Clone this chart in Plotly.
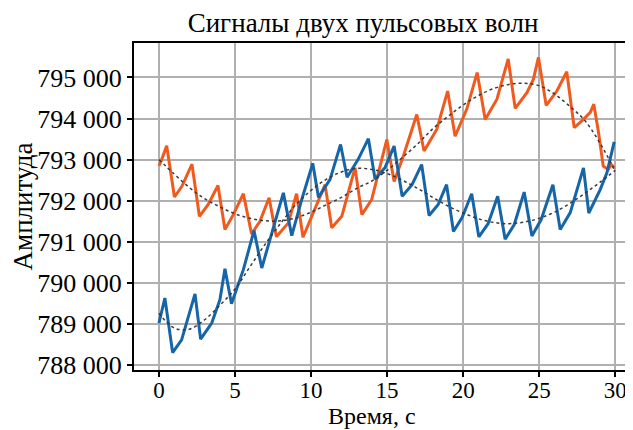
import plotly.graph_objects as go

# ---- data ----
blue_t = [0.0, 0.39, 0.90, 1.49, 2.37, 2.74, 3.47, 4.01, 4.34, 4.77, 5.55, 6.25, 6.76, 7.30, 8.18, 8.73,
          9.39, 10.11, 10.49, 11.25, 11.94, 12.37, 13.09, 13.77, 14.21, 14.87, 15.46, 15.99, 16.64, 17.27,
          17.76, 18.36, 18.91, 19.36, 19.93, 20.56, 21.03, 21.64, 22.27, 22.76, 23.36, 24.01, 24.52, 25.13,
          25.90, 26.38, 27.04, 27.91, 28.26, 29.01, 29.45, 29.93]
blue_v = [789020, 789630, 788300, 788610, 789730, 788630, 789020, 789590, 790340, 789490, 790320, 791270,
          790360, 791050, 792190, 791150, 792030, 792910, 792080, 792520, 793370, 792570, 793000, 793510,
          792520, 792810, 793330, 792110, 792390, 792880, 791640, 791910, 792390, 791250, 791590, 792170,
          791120, 791440, 792110, 791060, 791420, 792210, 791140, 791540, 792390, 791300, 791710, 792800,
          791700, 792270, 792680, 793430]

orange_t = [0.0, 0.18, 0.51, 1.02, 1.51, 2.17, 2.66, 3.24, 3.88, 4.34, 4.89, 5.55, 6.09, 6.64, 7.24, 7.72,
            8.51, 9.05, 9.47, 10.05, 10.92, 11.36, 12.02, 12.89, 13.34, 13.99, 14.98, 15.46, 16.07, 16.95,
            17.43, 18.27, 18.98, 19.47, 20.24, 20.92, 21.45, 22.22, 22.96, 23.42, 24.19, 24.62, 24.95, 25.46,
            26.16, 26.81, 27.30, 27.91, 28.36, 28.59, 28.90, 29.21, 29.54, 29.74, 29.93]
orange_v = [792850, 793000, 793340, 792090, 792350, 792890, 791620, 791910, 792370, 791300, 791660, 792170,
            791190, 791500, 792070, 791120, 791460, 792170, 791110, 791620, 792390, 791340, 791620, 792800,
            791660, 792030, 793490, 792470, 793090, 794100, 793210, 793740, 794670, 793570, 794230, 795120,
            793980, 794470, 795450, 794250, 794630, 794960, 795490, 794320, 794670, 795140, 793780, 793980,
            794150, 794350, 793660, 792840, 792760, 792880, 792800]

trend_t = list(range(0, 31))
blue_trend = [789260, 788900, 788870, 789100, 789450, 789850, 790400, 790950, 791450, 791900, 792250,
              792520, 792700, 792790, 792760, 792660, 792500, 792300, 792080, 791870, 791700, 791560,
              791470, 791440, 791480, 791570, 791720, 791930, 792180, 792450, 792740]
orange_trend = [793000, 792650, 792320, 792050, 791850, 791680, 791570, 791510, 791510, 791580, 791720,
                791900, 792080, 792300, 792480, 792740, 793050, 793380, 793750, 794050, 794330, 794560,
                794730, 794830, 794860, 794800, 794600, 794300, 793950, 793400, 792720]

x_ticks = [0, 5, 10, 15, 20, 25, 30]
y_ticks = [788000, 789000, 790000, 791000, 792000, 793000, 794000, 795000]

title_text = "Сигналы двух пульсовых волн"
x_title = "Время, с"
y_title = "Амплитуда"

FONT = "Liberation Serif, Times New Roman, serif"

# the page body has an 8px default margin, so the figure is 8px smaller on each side
fig = go.Figure()
fig.add_trace(go.Scatter(x=orange_t, y=orange_v, mode="lines",
                         line=dict(color="#f05a1e", width=3), showlegend=False))
fig.add_trace(go.Scatter(x=blue_t, y=blue_v, mode="lines",
                         line=dict(color="#1565a8", width=3), showlegend=False))
fig.add_trace(go.Scatter(x=trend_t, y=blue_trend, mode="lines", line_shape="spline",
                         line=dict(color="#3a3a3a", width=1.5, dash="dot"), showlegend=False))
fig.add_trace(go.Scatter(x=trend_t, y=orange_trend, mode="lines", line_shape="spline",
                         line=dict(color="#3a3a3a", width=1.5, dash="dot"), showlegend=False))

W, H = 625, 422
L, R, T, B = 126, 1, 35, 60
PH = H - T - B
fig.update_layout(
    width=W, height=H,
    margin=dict(l=L, r=R, t=T, b=B, autoexpand=False),
    paper_bgcolor="white", plot_bgcolor="white",
    separators=", ",
    font=dict(family=FONT, size=26, color="black"),
    title=dict(text=title_text, xref="paper", x=(355 - L) / (W - L - R), xanchor="center",
               yref="container", y=1 - 15 / H, yanchor="middle",
               font=dict(family=FONT, size=27, color="black"), automargin=False),
)
fig.add_annotation(text=x_title, xref="paper", x=(364 - L) / (W - L - R), xanchor="center",
                   yref="paper", y=-B / PH, yanchor="bottom", yshift=-1, showarrow=False,
                   font=dict(family=FONT, size=24, color="black"))
fig.update_xaxes(range=[-1.64, 31.1], tickvals=x_ticks, ticks="outside", ticklen=5, tickwidth=1.5,
                 tickcolor="black", showline=True, linecolor="black", linewidth=2, mirror=True,
                 showgrid=True, gridcolor="#b0b0b0", gridwidth=1.5, zeroline=False, automargin=False,
                 ticklabelstandoff=-7, tickfont=dict(size=23))
fig.update_yaxes(range=[787877, 795840], tickvals=y_ticks, tickformat=",d", ticks="outside", ticklen=5,
                 tickwidth=1.5, tickcolor="black", showline=True, linecolor="black", linewidth=2,
                 mirror=True, showgrid=True, gridcolor="#b0b0b0", gridwidth=1.5, zeroline=False,
                 automargin=False, ticklabelstandoff=0,
                 tickfont=dict(size=26), title=dict(text=y_title, standoff=0, font=dict(size=27)))

fig.write_html("out.html")
